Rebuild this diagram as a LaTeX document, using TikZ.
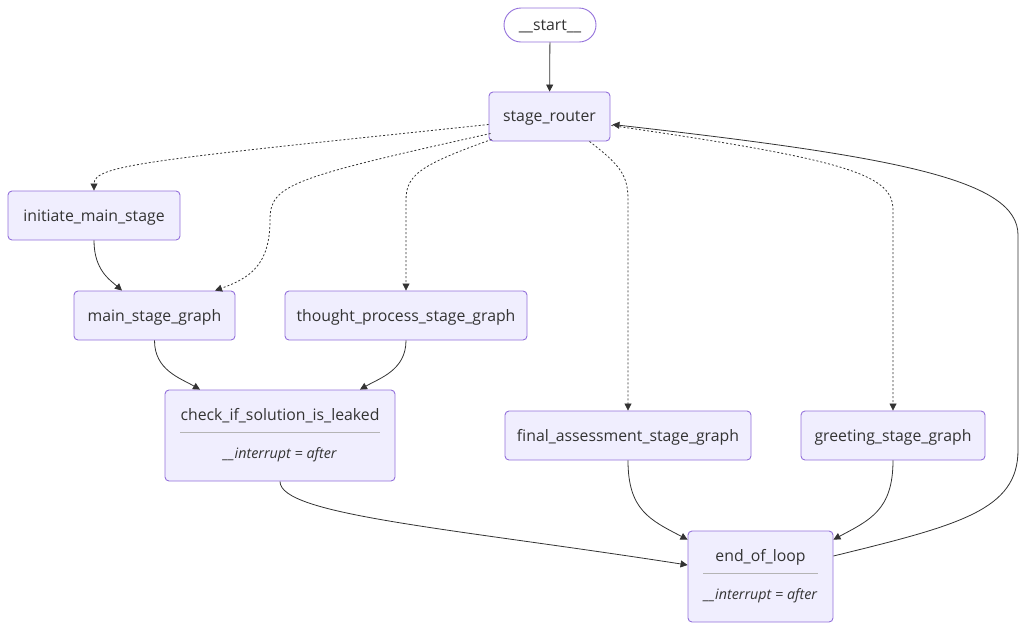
\documentclass[tikz,border=0pt]{standalone}
\usepackage{fontspec}
\setmainfont{Open Sans}
\usepackage{tikz}
\usetikzlibrary{positioning}
\usetikzlibrary{calc}
\usetikzlibrary{arrows.meta}
\definecolor{boxfill}{HTML}{F0EEFE}
\definecolor{boxline}{HTML}{9370DB}
\definecolor{inkgray}{HTML}{333333}
\definecolor{sepgray}{HTML}{B4B4B4}
\newcommand{\lowered}[1]{\raisebox{-2pt}[\height][\depth]{#1}}
\tikzset{
  stagebox/.style={draw=boxline, fill=boxfill, line width=0.9pt, rounded corners=4pt,
    minimum height=49pt, inner sep=0pt, text=inkgray, font=\fontsize{15.8}{18}\selectfont},
  startbox/.style={stagebox, fill=white, rounded corners=17pt, minimum height=34pt},
  flow/.style={draw=inkgray, line width=0.8pt, -{Triangle[length=7pt,width=7pt]}},
  choice/.style={flow, dash pattern=on 2pt off 2pt},
  subtext/.style={text=inkgray, font=\fontsize{14.3}{17}\selectfont\itshape},
}
\begin{document}
\begin{tikzpicture}[
    x=1pt,
    y=-1pt
]
  \useasboundingbox (0,0) rectangle (1028,630);
  % nodes
  \node[startbox, minimum width=92pt] (start) at (550,25) {\lowered{\_\_start\_\_}};
  \node[stagebox, minimum width=121pt] (router) at (549.5,116.5) {\lowered{stage\_router}};
  \node[stagebox, minimum width=172pt] (init) at (94,215.5) {\lowered{initiate\_main\_stage}};
  \node[stagebox, minimum width=161pt] (main) at (154.5,315.5) {\lowered{main\_stage\_graph}};
  \node[stagebox, minimum width=242pt] (thought) at (406,315.5) {\lowered{thought\_process\_stage\_graph}};
  \node[stagebox, minimum width=230pt, minimum height=91pt] (check) at (280,435.5) {};
  \node[stagebox, minimum width=246pt] (final) at (628,435.5) {\lowered{final\_assessment\_stage\_graph}};
  \node[stagebox, minimum width=184pt] (greet) at (893,435.5) {\lowered{greeting\_stage\_graph}};
  \node[stagebox, minimum width=145pt, minimum height=91pt] (loop) at (760.5,576.5) {};
  % texts of the two boxes with a rule
  \node[text=inkgray, font=\fontsize{15.8}{18}\selectfont] (checkT) at (280,414) {\lowered{check\_if\_solution\_is\_leaked}};
  \draw[sepgray, line width=0.8pt] (180,432) -- (380,432);
  \node[subtext] (checkI) at (280,455) {\_\_interrupt = after};
  \node[text=inkgray, font=\fontsize{15.8}{18}\selectfont] (loopT) at (760.5,555) {\lowered{end\_of\_loop}};
  \draw[sepgray, line width=0.8pt] (703,573) -- (818,573);
  \node[subtext] (loopI) at (760.5,596) {\_\_interrupt = after};
  % edges
  \draw[flow] (start) -- (router);
  \draw[choice] ($(router.west)+(0,8)$) .. controls (150,160) and (94,165) .. (init.north);
  \draw[choice] ($(router.west)+(2,17)$) .. controls (290,178) and (270,185) .. (270,220)
    .. controls (270,265) and (250,278) .. ($(main.north)+(60.5,0)$);
  \draw[choice] ($(router.south west)+(3,-2)$) .. controls (420,165) and (406,175) .. (406,200) -- (thought.north);
  \draw[choice] ($(router.south)+(40,0)$) .. controls (620,165) and (628,175) .. (628,200) -- (final.north);
  \draw[choice] ($(router.east)+(1,9)$) .. controls (850,160) and (893,175) .. (893,210) -- (greet.north);
  \draw[flow] ($(init.south)$) .. controls (94,270) and (110,280) .. ($(main.north)+(-32.5,0)$);
  \draw[flow] (main.south) .. controls (154.5,370) and (180,378) .. ($(check.north)+(-80,0)$);
  \draw[flow] (thought.south) .. controls (406,370) and (380,378) .. ($(check.north)+(80,0)$);
  \draw[flow] (check.south) .. controls (280,515) and (450,528) .. ($(loop.west)+(0,-11.5)$);
  \draw[flow] (final.south) .. controls (628,510) and (650,520) .. ($(loop.north west)+(0,9)$);
  \draw[flow] (greet.south) .. controls (893,510) and (870,520) .. ($(loop.north east)+(0,9)$);
  \draw[flow] ($(loop.east)+(0,-20.5)$) .. controls (960,525) and (1018,510) .. (1018,450) -- (1018,235)
    .. controls (1018,180) and (900,157) .. ($(router.east)+(2,8)$);
\end{tikzpicture}
\end{document}
